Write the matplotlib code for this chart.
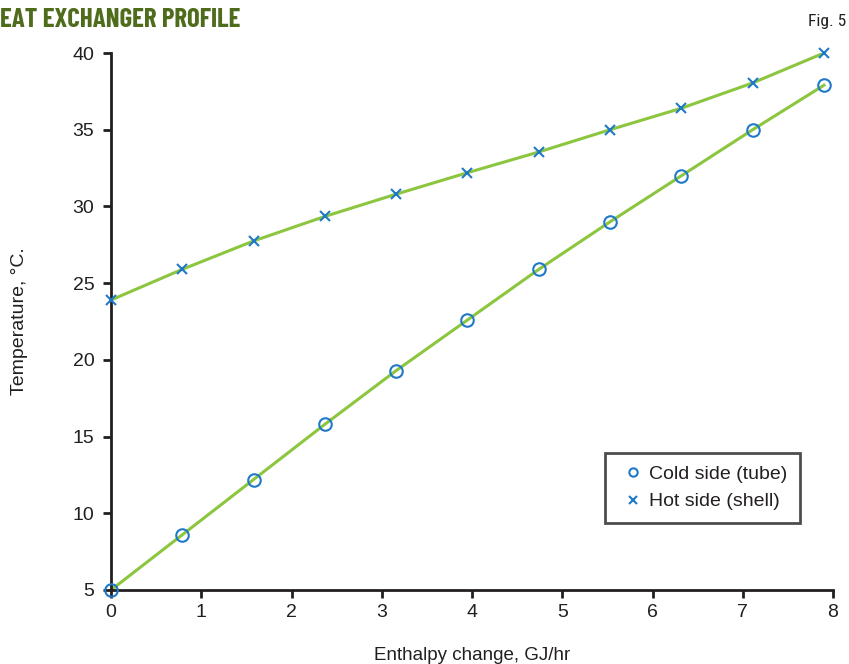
import matplotlib
matplotlib.use("Agg")
import matplotlib.pyplot as plt

plt.rcParams['font.family'] = ['Liberation Sans', 'DejaVu Sans']

# Enthalpy change (GJ/hr) and stream temperatures (°C)
enthalpy = [0.0, 0.79, 1.58, 2.37, 3.16, 3.95, 4.74, 5.53, 6.32, 7.11, 7.90]
cold_side = [5.0, 8.6, 12.2, 15.8, 19.3, 22.6, 25.9, 29.0, 32.0, 35.0, 37.9]
hot_side = [23.9, 25.9, 27.75, 29.35, 30.8, 32.2, 33.55, 35.0, 36.4, 38.05, 40.0]

x_ticks = [0, 1, 2, 3, 4, 5, 6, 7, 8]
y_ticks = [5, 10, 15, 20, 25, 30, 35, 40]

line_green = '#8cc63f'
marker_blue = '#1f78c8'
title_green = '#4f6b1c'
ink = '#231f20'

W, H = 849, 664
fig = plt.figure(figsize=(W / 100, H / 100), dpi=100)
ax = fig.add_axes([111 / W, 1 - 590 / H, (833 - 111) / W, (590 - 53) / H])

ax.plot(enthalpy, cold_side, color=line_green, lw=2.2, zorder=2)
ax.plot(enthalpy, hot_side, color=line_green, lw=2.2, zorder=2)
ax.plot(enthalpy, cold_side, ls='none', marker='o', ms=9, mfc='none',
        mec=marker_blue, mew=1.5, zorder=3, clip_on=False, label='Cold side (tube)')
ax.plot(enthalpy, hot_side, ls='none', marker='x', ms=7.5, mec=marker_blue,
        mew=1.5, zorder=3, clip_on=False, label='Hot side (shell)')

ax.set_xlim(0, 8)
ax.set_ylim(5, 40)
ax.set_xticks(x_ticks)
ax.set_yticks(y_ticks)
for s in ('top', 'right'):
    ax.spines[s].set_visible(False)
for s in ('left', 'bottom'):
    ax.spines[s].set_linewidth(2.0)
    ax.spines[s].set_color(ink)
ax.tick_params(axis='both', length=6, width=2, color=ink,
               labelsize=14, labelcolor=ink)
ax.tick_params(axis='x', pad=4)
ax.tick_params(axis='y', pad=6)

ax.set_xlabel('Enthalpy change, GJ/hr', fontsize=13.5, color=ink, labelpad=19)
ax.set_ylabel('Temperature, °C.', fontsize=14, color=ink, labelpad=32)

leg = ax.legend(loc='lower right', bbox_to_anchor=(800 / W, 1 - 523 / H),
                bbox_transform=fig.transFigure, frameon=True, fancybox=False,
                edgecolor=ink, fontsize=14, handlelength=1.5,
                handletextpad=0.1, borderpad=0.65, labelspacing=0.5,
                borderaxespad=0)
leg.get_frame().set_linewidth(2)
for t in leg.get_texts():
    t.set_color(ink)
for h in leg.legend_handles:
    h.set_markersize(6)

# Header in a bold condensed face, sized to span the top-left band
title_font = ['Barlow Condensed', 'Fjalla One', 'Oswald', 'Roboto Condensed', 'DejaVu Sans']
title_text = 'EAT EXCHANGER PROFILE'
probe = fig.text(0, 0, title_text, fontsize=20, fontweight='bold', family=title_font)
renderer = fig.canvas.get_renderer()
w20 = probe.get_window_extent(renderer).width
probe.remove()
title_size = 20 * 242 / w20
fig.text(0.0, 1 - 27 / H, title_text, ha='left', va='baseline',
         fontsize=title_size, fontweight='bold', color=title_green,
         family=title_font)
fig.text(846 / W, 1 - 26 / H, 'Fig. 5', ha='right', va='baseline', fontsize=12.5,
         color=ink, family=['Roboto Condensed', 'Liberation Sans', 'DejaVu Sans'])

fig.savefig('out.png', dpi=100)
